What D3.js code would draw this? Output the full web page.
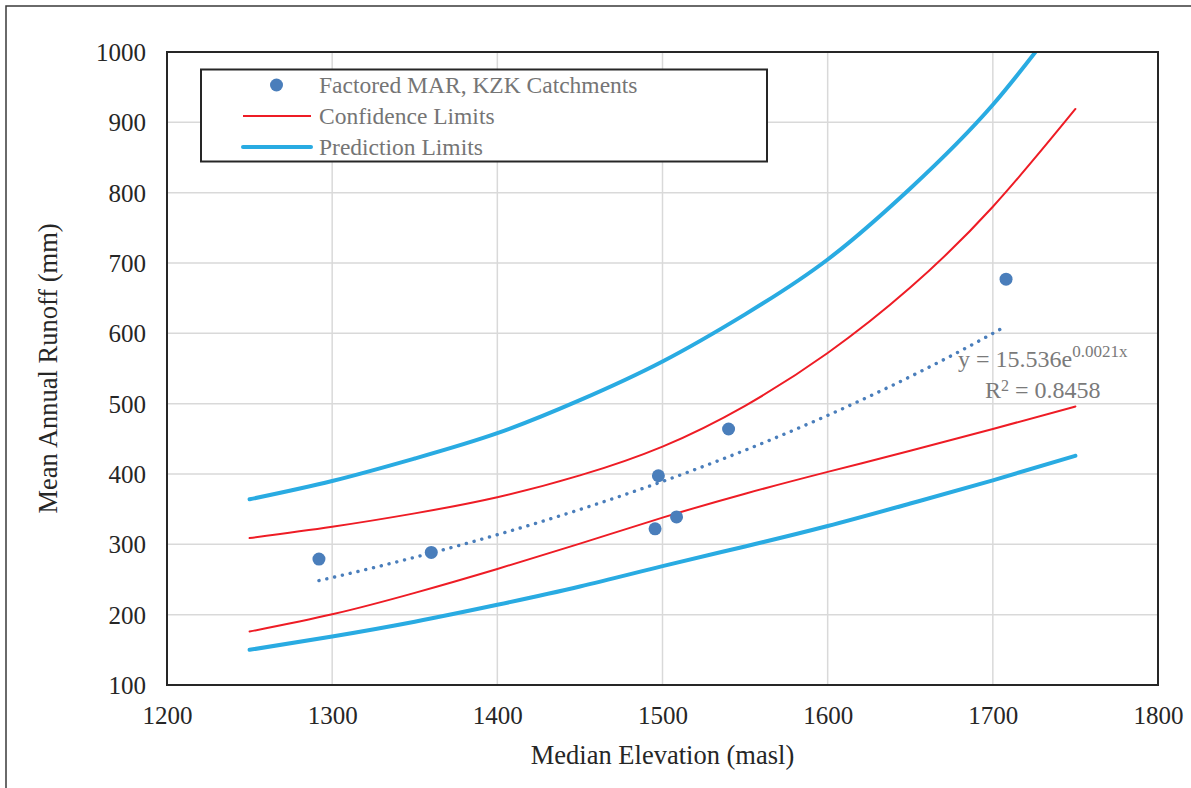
<!DOCTYPE html>
<html>
<head>
<meta charset="utf-8">
<script src="https://cdn.jsdelivr.net/npm/d3@7"></script>
<style>
  html, body { margin: 0; padding: 0; background: #fff; }
  svg { display: block; }
  text { font-family: "Liberation Serif", "Times New Roman", serif; }
</style>
</head>
<body>
<div id="chart"></div>
<script>
// catchment points: median elevation (masl) vs factored MAR (mm)
const elevation = [1292, 1360, 1495.5, 1497.5, 1508.5, 1540, 1708];
const runoff = [279, 288.5, 322, 397.5, 339, 464, 677];

// limit curves, read at these elevations
const limitX = [1250, 1300, 1350, 1400, 1450, 1500, 1550, 1600, 1650, 1700, 1750];
const upperPrediction = [364, 390, 422, 458, 505, 560, 627, 705, 806, 925, 1075];
const upperConfidence = [309, 325, 344, 367, 398, 439, 497, 572, 665, 780, 919];
const lowerConfidence = [176, 200.5, 231, 265, 301, 338, 372, 403, 433, 464, 496];
const lowerPrediction = [150, 169, 190, 214, 240, 269, 297, 326, 358, 391, 426];

const xTicks = [1200, 1300, 1400, 1500, 1600, 1700, 1800];
const yTicks = [100, 200, 300, 400, 500, 600, 700, 800, 900, 1000];

const legendLabels = ['Factored MAR, KZK Catchments', 'Confidence Limits', 'Prediction Limits'];

const width = 1191;
const height = 788;
const plot = { left: 167, right: 1158, top: 52, bottom: 685 };

const svg = d3.select('#chart').append('svg')
  .attr('width', width)
  .attr('height', height);

const x = d3.scaleLinear().domain([1200, 1800]).range([plot.left, plot.right]);
const y = d3.scaleLinear().domain([100, 1000]).range([plot.bottom, plot.top]);

// outer chart frame (only top and left show in the crop)
svg.append('path')
  .attr('d', `M6,${height}V6H${width}`)
  .attr('fill', 'none')
  .attr('stroke', '#3a3a3a')
  .attr('stroke-width', 1.5);

svg.append('clipPath').attr('id', 'clip')
  .append('rect')
  .attr('x', plot.left)
  .attr('y', plot.top)
  .attr('width', plot.right - plot.left)
  .attr('height', plot.bottom - plot.top);

// gridlines
const grid = svg.append('g');
grid.selectAll('.gx')
  .data(xTicks.slice(1, -1))
  .enter().append('line')
  .attr('x1', d => x(d)).attr('x2', d => x(d))
  .attr('y1', plot.top).attr('y2', plot.bottom)
  .attr('stroke', '#d9d9d9').attr('stroke-width', 1.5);
grid.selectAll('.gy')
  .data(yTicks.slice(1, -1))
  .enter().append('line')
  .attr('y1', d => y(d)).attr('y2', d => y(d))
  .attr('x1', plot.left).attr('x2', plot.right)
  .attr('stroke', '#d9d9d9').attr('stroke-width', 1.5);

// axes (labels only, no tick marks)
const xAxis = svg.append('g')
  .attr('transform', `translate(0,${plot.bottom})`)
  .call(d3.axisBottom(x).tickValues(xTicks).tickSize(0).tickPadding(21).tickFormat(d3.format('d')));
const yAxis = svg.append('g')
  .attr('transform', `translate(${plot.left},0)`)
  .call(d3.axisLeft(y).tickValues(yTicks).tickSize(0).tickPadding(21).tickFormat(d3.format('d')));
[xAxis, yAxis].forEach((ax) => {
  ax.select('.domain').remove();
  ax.selectAll('text')
    .attr('font-family', '"Liberation Serif", serif')
    .attr('font-size', 25)
    .attr('fill', '#262626');
});
yAxis.selectAll('text').attr('dy', '0.34em');
xAxis.selectAll('text').attr('dy', '0.71em');

const curves = svg.append('g').attr('clip-path', 'url(#clip)');
const line = d3.line()
  .x(d => x(d[0]))
  .y(d => y(d[1]))
  .curve(d3.curveNatural);

const series = [
  { values: upperPrediction, color: '#29abe2', w: 4 },
  { values: lowerPrediction, color: '#29abe2', w: 4 },
  { values: upperConfidence, color: '#ee1c25', w: 2 },
  { values: lowerConfidence, color: '#ee1c25', w: 2 },
];
series.forEach((s) => {
  curves.append('path')
    .datum(limitX.map((v, i) => [v, s.values[i]]))
    .attr('d', line)
    .attr('fill', 'none')
    .attr('stroke', s.color)
    .attr('stroke-width', s.w)
    .attr('stroke-linecap', 'round');
});

// points
svg.append('g').selectAll('circle')
  .data(elevation.map((v, i) => [v, runoff[i]]))
  .enter().append('circle')
  .attr('cx', d => x(d[0]))
  .attr('cy', d => y(d[1]))
  .attr('r', 6.5)
  .attr('fill', '#4a7ebb');

// exponential trendline fitted to the points (least squares on ln y)
const lnY = runoff.map(v => Math.log(v));
const mx = d3.mean(elevation);
const my = d3.mean(lnY);
const b = d3.sum(elevation, (v, i) => (v - mx) * (lnY[i] - my)) / d3.sum(elevation, v => (v - mx) ** 2);
const a = Math.exp(my - b * mx);
const trend = d3.range(d3.min(elevation), d3.max(elevation) - 2, 1).map(v => [v, a * Math.exp(b * v)]);
svg.append('path')
  .datum(trend)
  .attr('d', d3.line().x(d => x(d[0])).y(d => y(d[1])))
  .attr('fill', 'none')
  .attr('stroke', '#4a7ebb')
  .attr('stroke-width', 3.4)
  .attr('stroke-linecap', 'round')
  .attr('stroke-dasharray', '0.1 7.9');

// equation label, one text block with two lines
const eq = svg.append('text')
  .attr('x', 958).attr('y', 367)
  .attr('fill', '#7a7a7a').attr('font-size', 24);
eq.append('tspan').text('y = 15.536e');
eq.append('tspan').attr('dy', -10).attr('font-size', 17).text('0.0021x');
eq.append('tspan').attr('x', 985).attr('dy', 41).text('R');
eq.append('tspan').attr('dy', -7).attr('font-size', 16).text('2');
eq.append('tspan').attr('dy', 7).text(' = 0.8458');

// plot frame
svg.append('rect')
  .attr('x', plot.left)
  .attr('y', plot.top)
  .attr('width', plot.right - plot.left)
  .attr('height', plot.bottom - plot.top)
  .attr('fill', 'none')
  .attr('stroke', '#262626')
  .attr('stroke-width', 2);

// legend
const legend = svg.append('g');
legend.append('rect')
  .attr('x', 201).attr('y', 69.5)
  .attr('width', 566).attr('height', 92)
  .attr('fill', '#fff')
  .attr('stroke', '#262626')
  .attr('stroke-width', 2);
const rowY = [85, 116, 147];
legend.append('circle')
  .attr('cx', 276.5).attr('cy', rowY[0]).attr('r', 6.5)
  .attr('fill', '#4a7ebb');
legend.append('line')
  .attr('x1', 243).attr('x2', 311).attr('y1', rowY[1]).attr('y2', rowY[1])
  .attr('stroke', '#ee1c25').attr('stroke-width', 2);
legend.append('line')
  .attr('x1', 243).attr('x2', 311).attr('y1', rowY[2]).attr('y2', rowY[2])
  .attr('stroke', '#29abe2').attr('stroke-width', 4).attr('stroke-linecap', 'round');
legend.selectAll('.lt')
  .data(legendLabels)
  .enter().append('text')
  .attr('x', 319)
  .attr('y', (d, i) => rowY[i])
  .attr('dy', '0.34em')
  .attr('font-size', 23.5)
  .attr('fill', '#757575')
  .text(d => d);

// axis titles
svg.append('text')
  .attr('x', (plot.left + plot.right) / 2)
  .attr('y', 764)
  .attr('text-anchor', 'middle')
  .attr('font-size', 26.5)
  .attr('fill', '#262626')
  .text('Median Elevation (masl)');
svg.append('text')
  .attr('transform', `translate(57,${(plot.top + plot.bottom) / 2}) rotate(-90)`)
  .attr('text-anchor', 'middle')
  .attr('font-size', 26.5)
  .attr('fill', '#262626')
  .text('Mean Annual Runoff (mm)');
</script>
</body>
</html>
